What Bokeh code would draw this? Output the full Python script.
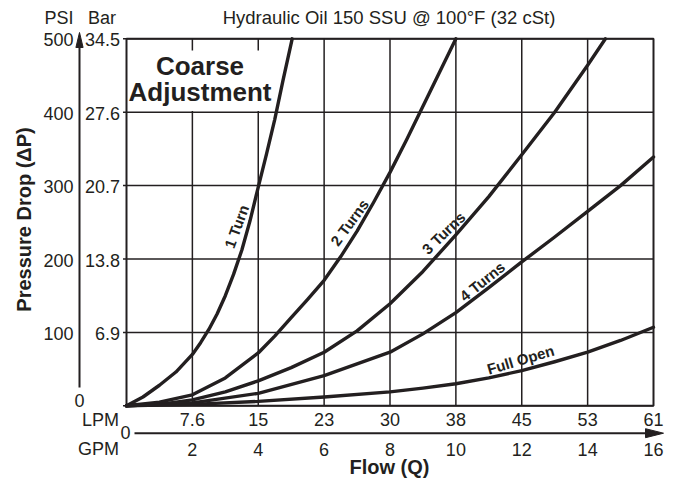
from bokeh.plotting import figure
from bokeh.models import Range1d
from bokeh.core.properties import value
from bokeh.embed import file_html
from bokeh.resources import INLINE

# ---------------- data ----------------
gpm_ticks = [0, 2, 4, 6, 8, 10, 12, 14, 16]
gpm_labels = ["2", "4", "6", "8", "10", "12", "14", "16"]
lpm_labels = ["7.6", "15", "23", "30", "38", "45", "53", "61"]
psi_ticks = [0, 100, 200, 300, 400, 500]
psi_labels = ["100", "200", "300", "400", "500"]
bar_labels = ["6.9", "13.8", "20.7", "27.6", "34.5"]

turn1_gpm = [0, 0.5, 1, 1.5, 2, 2.25, 2.5, 2.75, 3, 3.25, 3.5, 3.75, 4, 4.25, 4.5, 4.75, 5.03]
turn1_psi = [0, 12, 28, 46, 70, 86, 104, 125, 150, 179, 212, 252, 298, 343, 390, 443, 500]

turn2_gpm = [0, 1, 2, 3, 4, 4.5, 5, 5.5, 6, 6.5, 7, 7.5, 8, 8.5, 9, 9.5, 10]
turn2_psi = [0, 5, 15, 38, 72, 95, 120, 145, 171, 203, 238, 277, 318, 362, 408, 454, 500]

turn3_gpm = [0, 1, 2, 3, 4, 5, 6, 7, 8, 9, 10, 11, 12, 13, 14, 14.54]
turn3_psi = [0, 2, 8, 19, 34, 52, 73, 102, 139, 183, 233, 285, 342, 400, 464, 500]

turn4_gpm = [0, 2, 4, 6, 8, 9, 10, 11, 12, 13, 14, 15, 16]
turn4_psi = [0, 4, 17, 41, 73, 98, 127, 161, 196, 230, 265, 300, 339]

full_gpm = [0, 2, 4, 6, 8, 9, 10, 11, 12, 13, 14, 15, 16]
full_psi = [0, 2, 6, 12, 19, 24, 30, 38, 48, 60, 73, 89, 107]

curve_names = ["1 Turn", "2 Turns", "3 Turns", "4 Turns", "Full Open"]
title_text = "Hydraulic Oil 150 SSU @ 100\u00b0F (32 cSt)"

# ---------------- layout ----------------
W, H = 675, 478
SX0, SY0 = 126.0, 405.3          # page pixel of (0 GPM, 0 PSI)
XS = 527.0 / 16                  # px per GPM
YS = 367.0 / 500                 # px per PSI


def qx(px):
    return (px - SX0) / XS


def pp(py):
    return (SY0 - py) / YS


INK = "#231f20"
FONT = value("Liberation Sans")

p = figure(width=W, height=H,
           x_range=Range1d(qx(0), qx(W)),
           y_range=Range1d(pp(H), pp(0)),
           output_backend="svg", toolbar_location=None,
           x_axis_type=None, y_axis_type=None,
           min_border=0, outline_line_color=None)
p.background_fill_color = "white"
p.border_fill_color = "white"

g0, g1 = gpm_ticks[0], gpm_ticks[-1]
p0, p1 = psi_ticks[0], psi_ticks[-1]

# grid
vx = gpm_ticks[1:-1]
p.segment(x0=vx, y0=[p0] * len(vx), x1=vx, y1=[p1] * len(vx),
          line_color=INK, line_width=1.5)
p.segment(x0=[qx(SX0 - 3.5)] * len(psi_ticks), y0=psi_ticks,
          x1=[g1] * len(psi_ticks), y1=psi_ticks,
          line_color=INK, line_width=1.5)

# white box behind the "Coarse Adjustment" note
p.quad(left=qx(127.5), right=qx(272), bottom=pp(110.5), top=pp(50),
       fill_color="white", line_color=None)

# frame
p.quad(left=g0, right=g1, bottom=p0, top=p1, fill_color=None,
       line_color=INK, line_width=2)

# curves
for gx, gy in [(turn1_gpm, turn1_psi), (turn2_gpm, turn2_psi),
               (turn3_gpm, turn3_psi), (turn4_gpm, turn4_psi),
               (full_gpm, full_psi)]:
    p.line(gx, gy, line_color=INK, line_width=3.4,
           line_join="round", line_cap="round")

# curve labels
lab_px = [236.0, 349.0, 443.0, 481.7, 520.0]
lab_py = [226.0, 222.0, 232.5, 280.8, 359.2]
lab_ang = [70, 54, 44, 39, 16.5]
p.text(x=[qx(v) for v in lab_px], y=[pp(v) for v in lab_py], text=curve_names,
       angle=lab_ang, angle_units="deg", text_align="center",
       text_baseline="middle", text_font=FONT, text_font_style="bold",
       text_font_size="15px", text_color=INK)


def label(xs, ys, texts, align="center", size="18px", bold=False, **kw):
    p.text(x=xs, y=ys, text=texts, text_align=align, text_baseline="middle",
           text_font=FONT, text_font_style="bold" if bold else "normal",
           text_font_size=size, text_color=INK, **kw)


# Coarse Adjustment
label([qx(199.5)] * 2, [pp(65.3), pp(91.7)], ["Coarse", "Adjustment"],
      size="26px", bold=True)

# y tick labels
ylev = psi_ticks[1:]
label([qx(73)] * len(ylev), ylev, psi_labels, align="right", y_offset=1)
label([qx(119.5)] * len(ylev), ylev, bar_labels, align="right", y_offset=1)
label([qx(79)], [pp(400)], ["0"])

# x tick labels
xlev = gpm_ticks[1:]
label(xlev, [p0] * len(xlev), lpm_labels, y_offset=13.9)
label(xlev, [p0] * len(xlev), gpm_labels, y_offset=43.2)
label([qx(118.5)] * 2, [pp(419.5), pp(448.5)], ["LPM", "GPM"], align="right")
label([qx(125)], [pp(431.7)], ["0"])

# headers / title
label([qx(73)], [pp(17.3)], ["PSI"], align="right")
label([qx(101.5)], [pp(17.3)], ["Bar"])
label([qx(388.5)], [pp(17.3)], [title_text], size="18.5px")

# axis titles
label([qx(389)], [pp(466.3)], ["Flow (Q)"], size="20px", bold=True)
label([qx(23.5)], [pp(219)], ["Pressure Drop (\u0394P)"], size="20px",
      bold=True, angle=90, angle_units="deg")

# axis arrows
ax = qx(79)
p.segment(x0=[ax], y0=[pp(387)], x1=[ax], y1=[pp(45)], line_color=INK,
          line_width=2)
p.patch(x=[ax - 3.6 / XS, ax, ax + 3.6 / XS], y=[pp(47), pp(32), pp(47)],
        fill_color=INK, line_color=INK, line_width=1)
ay = pp(432.7)
p.segment(x0=[qx(134)], y0=[ay], x1=[qx(648)], y1=[ay], line_color=INK,
          line_width=2)
p.patch(x=[qx(645), qx(663), qx(645)], y=[ay + 4.5 / YS, ay, ay - 4.5 / YS],
        fill_color=INK, line_color=INK, line_width=1)

open("out.html", "w").write(file_html(p, INLINE))
